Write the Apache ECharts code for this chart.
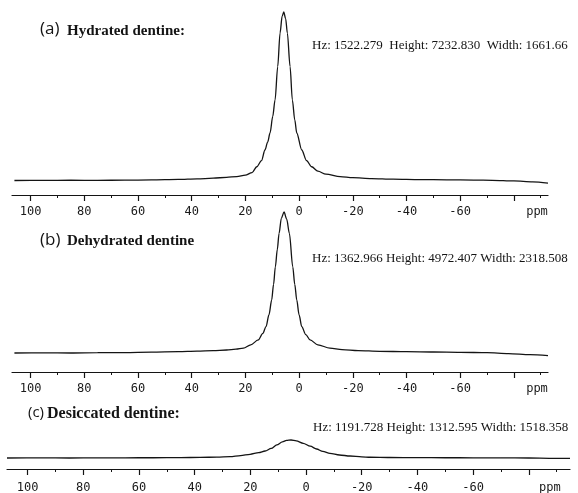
<!DOCTYPE html>
<html>
<head>
<meta charset="utf-8">
<script src="https://cdn.jsdelivr.net/npm/echarts@6/dist/echarts.min.js"></script>
<style>
  html, body { margin: 0; padding: 0; background: #fff; }
  #chart { width: 578px; height: 493px; }
</style>
</head>
<body>
<div id="chart"></div>
<script>
// 1H spectra of dentine: chemical shift (ppm) and signal intensity
const ppmA = [106, 95, 85, 75, 65, 55, 45, 38, 32, 27, 23.2, 20, 17.5, 15.75, 14, 12.7, 11.7, 10.8, 9.8, 8.94, 7.95, 7.08, 6.3, 5.7, 5.0, 4.36, 3.35, 2.5, 1.6, 0.86, -1.0, -2.8, -4.7, -7, -10, -15.3, -20, -27, -35, -45, -55, -65, -72, -80, -87, -92.7];
const intA = [0, 5, 12, 8, 15, 25, 45, 70, 100, 135, 170, 230, 340, 590, 850, 1310, 1650, 2040, 2750, 3460, 4890, 6330, 7050, 7232.830, 6950, 6330, 4890, 3460, 2600, 2040, 1310, 850, 590, 400, 270, 165, 120, 85, 60, 40, 30, 20, 10, -20, -60, -110];

const ppmB = [106, 95, 85, 75, 65, 55, 45, 38, 32, 27, 23.5, 20.7, 18, 15.2, 13.5, 12.3, 11.2, 10.2, 9.5, 8.83, 8.1, 7.45, 6.6, 5.6, 4.6, 3.61, 2.35, 1.6, 0.86, 0, -1.0, -2.5, -4.1, -7, -11.5, -16, -22, -30, -40, -50, -60, -70, -78, -86, -92.7];
const intB = [0, 5, 0, 10, 15, 30, 45, 65, 85, 105, 135, 170, 290, 460, 690, 930, 1350, 1870, 2420, 3040, 3650, 4220, 4750, 4972.407, 4720, 4220, 3040, 2420, 1870, 1350, 930, 650, 460, 290, 170, 120, 85, 60, 45, 35, 25, 10, -20, -60, -90];

const ppmC = [107.4, 95, 85, 75, 65, 55, 45, 38, 32, 27.3, 23.5, 20.1, 17, 14.7, 12.5, 10.5, 8.5, 7, 5.4, 3.5, 1.0, -1.5, -3.8, -6, -8.6, -12, -15.8, -20, -23, -30, -40, -50, -60, -70, -80, -88, -94.8];
const intC = [0, 5, 0, 10, 15, 20, 30, 45, 65, 95, 170, 270, 390, 510, 700, 950, 1170, 1280, 1312.595, 1250, 1070, 860, 656, 480, 343, 220, 146, 85, 55, 35, 25, 20, 15, 5, 0, -20, -30];

// Axis ticks and labels (ppm)
const majorTicks = [100, 80, 60, 40, 20, 0, -20, -40, -60, -80];
const minorTicks = [90, 70, 50, 30, 10, -10, -30, -50, -70, -90];
const tickLabels = [100, 80, 60, 40, 20, 0, -20, -40, -60];
const unitLabel = 'ppm';

// Panel captions and fit summaries
const panelTags = ['(a)', '(b)', '(c)'];
const panelNames = ['Hydrated dentine:', 'Dehydrated dentine', 'Desiccated dentine:'];
const fitNotes = [
  'Hz: 1522.279  Height: 7232.830  Width: 1661.66',
  'Hz: 1362.966 Height: 4972.407 Width: 2318.508',
  'Hz: 1191.728 Height: 1312.595 Width: 1518.358'
];

// Layout of the three stacked panels
const panels = [
  { ppm: ppmA, val: intA, grid: { left: 12, right: 30, top: 12, bottom: 298 }, x: [-92.7, 106.9], y: [-622, 7232.830], unitAt: -88.6, labelGap: 11,
    tag: [40, 29.5], tagSize: 17, name: [67, 31], note: [312, 46], nameSize: 15 },
  { ppm: ppmB, val: intB, grid: { left: 12, right: 30, top: 212, bottom: 121 }, x: [-92.7, 106.9], y: [-670, 4972.407], unitAt: -88.6, labelGap: 11,
    tag: [40, 240], tagSize: 17, name: [67, 241.5], note: [312, 259], nameSize: 15 },
  { ppm: ppmC, val: intC, grid: { left: 7, right: 8, top: 440, bottom: 24 }, x: [-94.8, 107.4], y: [-802, 1312.595], unitAt: -87.6, labelGap: 13,
    tag: [28, 413], tagSize: 15, name: [47, 414], note: [313, 428], nameSize: 16 }
];

const ink = '#141414';
const grids = [], xAxes = [], yAxes = [], series = [], graphics = [];

panels.forEach((p, i) => {
  grids.push(Object.assign({ outerBoundsMode: 'none', containLabel: false }, p.grid));

  // main axis: line, major ticks, labels
  xAxes.push({
    type: 'value', gridIndex: i, position: 'bottom', inverse: true,
    min: p.x[0], max: p.x[1],
    axisLine: { show: true, onZero: false, lineStyle: { color: ink, width: 1.2 } },
    axisTick: { show: true, inside: false, length: 6, customValues: majorTicks, lineStyle: { color: ink, width: 1.2 } },
    axisLabel: {
      show: true, margin: p.labelGap, color: '#1a1a1a',
      fontFamily: 'DejaVu Sans Mono', fontSize: 12,
      customValues: tickLabels.concat([p.unitAt]),
      formatter: v => (Math.abs(v - p.unitAt) < 0.01 ? unitLabel : String(v))
    },
    splitLine: { show: false }
  });
  // companion axis carrying the short minor ticks
  xAxes.push({
    type: 'value', gridIndex: i, position: 'bottom', inverse: true,
    min: p.x[0], max: p.x[1],
    axisLine: { show: false, onZero: false },
    axisTick: { show: true, inside: false, length: 3, customValues: minorTicks, lineStyle: { color: ink, width: 1 } },
    axisLabel: { show: false },
    splitLine: { show: false }
  });

  yAxes.push({
    type: 'value', gridIndex: i, show: false,
    min: p.y[0], max: p.y[1],
    splitLine: { show: false }
  });

  series.push({
    type: 'line',
    xAxisIndex: 2 * i, yAxisIndex: i,
    data: p.ppm.map((x, k) => [x, p.val[k]]),
    showSymbol: false, symbol: 'none',
    smooth: 0.3, smoothMonotone: 'x',
    clip: false,
    lineStyle: { color: ink, width: 1.3 },
    silent: true, animation: false
  });

  graphics.push(
    { type: 'text', style: { text: panelTags[i], x: p.tag[0], y: p.tag[1], font: p.tagSize + 'px "Open Sans"', fill: ink, verticalAlign: 'middle', textVerticalAlign: 'middle' } },
    { type: 'text', style: { text: panelNames[i], x: p.name[0], y: p.name[1], font: 'bold ' + p.nameSize + 'px "Liberation Serif"', fill: ink, verticalAlign: 'middle', textVerticalAlign: 'middle' } },
    { type: 'text', style: { text: fitNotes[i], x: p.note[0], y: p.note[1], font: '13px "Liberation Serif"', fill: ink, verticalAlign: 'middle', textVerticalAlign: 'middle' } }
  );
});

const chart = echarts.init(document.getElementById('chart'), null, { renderer: 'canvas' });
chart.setOption({
  backgroundColor: '#ffffff',
  animation: false,
  grid: grids,
  xAxis: xAxes,
  yAxis: yAxes,
  series: series,
  graphic: graphics
});
</script>
</body>
</html>
